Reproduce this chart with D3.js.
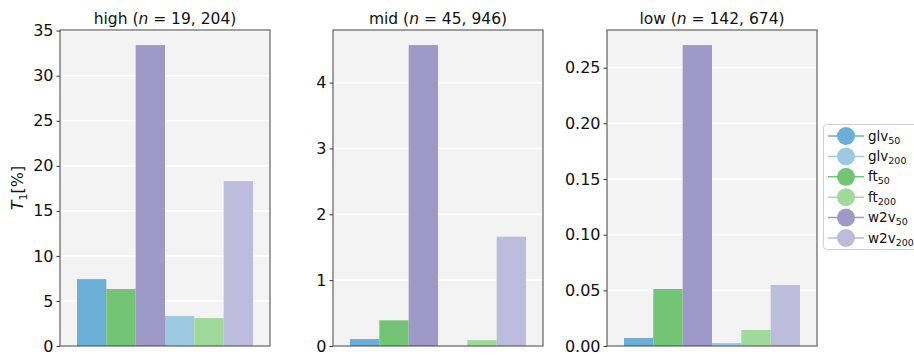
<!DOCTYPE html>
<html><head><meta charset="utf-8">
<script src="https://cdn.jsdelivr.net/npm/d3@7"></script>
<style>
body{margin:0;background:#fff;}
svg{display:block;font-family:"DejaVu Sans",sans-serif;}
</style></head>
<body><svg id="chart" width="914" height="356"></svg>
<script>
// Embedding variants, in bar order within each panel
const seriesKeys = ["glv50", "ft50", "w2v50", "glv200", "ft200", "w2v200"];
const legendKeys = ["glv50", "glv200", "ft50", "ft200", "w2v50", "w2v200"];
const seriesBase = {glv50:"glv", glv200:"glv", ft50:"ft", ft200:"ft", w2v50:"w2v", w2v200:"w2v"};
const seriesSub = {glv50:"50", glv200:"200", ft50:"50", ft200:"200", w2v50:"50", w2v200:"200"};
const seriesColors = {glv50:"#6baed6", glv200:"#9ecae1", ft50:"#74c476", ft200:"#a1d99b", w2v50:"#9e9ac8", w2v200:"#bcbddc"};

// Frequency groups
const groupNames = ["high", "mid", "low"];
const groupCounts = ["19, 204", "45, 946", "142, 674"];

// T1 [%] per group, in seriesKeys order
const highValues = [7.42, 6.32, 33.4, 3.33, 3.10, 18.3];
const midValues  = [0.105, 0.39, 4.57, 0.004, 0.09, 1.66];
const lowValues  = [0.0072, 0.0512, 0.2703, 0.0027, 0.0144, 0.0548];
const allValues = [highValues, midValues, lowValues];

// Tick values per panel
const highTicks = [0, 5, 10, 15, 20, 25, 30, 35];
const midTicks = [0, 1, 2, 3, 4];
const lowTicks = [0, 0.05, 0.10, 0.15, 0.20, 0.25];
const allTicks = [highTicks, midTicks, lowTicks];
const tickFormats = [d3.format("d"), d3.format("d"), d3.format(".2f")];

const svg = d3.select("#chart");
const panelLeft = [60, 333, 607];
const panelW = 210;
const plotTop = 30, plotBottom = 346;

groupNames.forEach((name, i) => {
  const x0 = panelLeft[i];
  const vals = allValues[i];
  const g = svg.append("g");
  const ymax = d3.max(vals) * 1.05;
  const y = d3.scaleLinear().domain([0, ymax]).range([plotBottom, plotTop]);
  const x = d3.scaleBand().domain(seriesKeys).range([x0 + 17, x0 + panelW - 17]).padding(0);

  g.append("rect").attr("x", x0).attr("y", plotTop).attr("width", panelW).attr("height", plotBottom - plotTop)
    .attr("fill", "#f3f3f3");

  // gridlines
  g.selectAll("line.grid").data(allTicks[i]).join("line")
    .attr("x1", x0).attr("x2", x0 + panelW)
    .attr("y1", d => y(d)).attr("y2", d => y(d))
    .attr("stroke", "#fff").attr("stroke-width", 1.6);

  g.selectAll("rect.bar").data(seriesKeys.map((k, j) => ({k, v: vals[j]}))).join("rect")
    .attr("x", d => x(d.k)).attr("width", x.bandwidth())
    .attr("y", d => y(d.v)).attr("height", d => plotBottom - y(d.v))
    .attr("fill", d => seriesColors[d.k]);

  // y axis
  const ax = g.append("g").attr("transform", `translate(${x0},0)`)
    .call(d3.axisLeft(y).tickValues(allTicks[i]).tickFormat(tickFormats[i]).tickSize(3.5).tickPadding(3));
  ax.select(".domain").remove();
  ax.selectAll(".tick line").attr("stroke", "#333");
  ax.selectAll("text").attr("font-size", 16).attr("fill", "#111").attr("font-family", "DejaVu Sans");

  // frame
  g.append("rect").attr("x", x0).attr("y", plotTop).attr("width", panelW).attr("height", plotBottom - plotTop)
    .attr("fill", "none").attr("stroke", "#444").attr("stroke-width", 1);

  // title
  const t = g.append("text").attr("x", x0 + panelW / 2).attr("y", 24)
    .attr("text-anchor", "middle").attr("font-size", 15.5).attr("fill", "#111");
  t.append("tspan").text(name + " (");
  t.append("tspan").attr("font-style", "italic").text("n");
  t.append("tspan").text(" = " + groupCounts[i] + ")");
});

// y-axis label
const yl = svg.append("text").attr("transform", "translate(23,188) rotate(-90)")
  .attr("text-anchor", "middle").attr("font-size", 16).attr("fill", "#111");
yl.append("tspan").attr("font-style", "italic").text("T");
yl.append("tspan").attr("font-size", 11).attr("dy", 4).text("1");
yl.append("tspan").attr("dy", -4).text("[%]");

// legend
const lg = svg.append("g");
lg.append("rect").attr("x", 823.5).attr("y", 124.5).attr("width", 100).attr("height", 125)
  .attr("rx", 3).attr("fill", "#fff").attr("fill-opacity", 0.8).attr("stroke", "#d0d0d0");
legendKeys.forEach((k, j) => {
  const cy = 136 + j * 20.4;
  lg.append("line").attr("x1", 828).attr("x2", 864).attr("y1", cy).attr("y2", cy)
    .attr("stroke", seriesColors[k]).attr("stroke-width", 1.5);
  lg.append("circle").attr("cx", 846).attr("cy", cy).attr("r", 9).attr("fill", seriesColors[k]);
  const tx = lg.append("text").attr("x", 868).attr("y", cy + 4.5).attr("font-size", 13.5).attr("fill", "#111");
  tx.append("tspan").text(seriesBase[k]);
  tx.append("tspan").attr("font-size", 9.5).attr("dy", 3).text(seriesSub[k]);
});
</script>
</body></html>
